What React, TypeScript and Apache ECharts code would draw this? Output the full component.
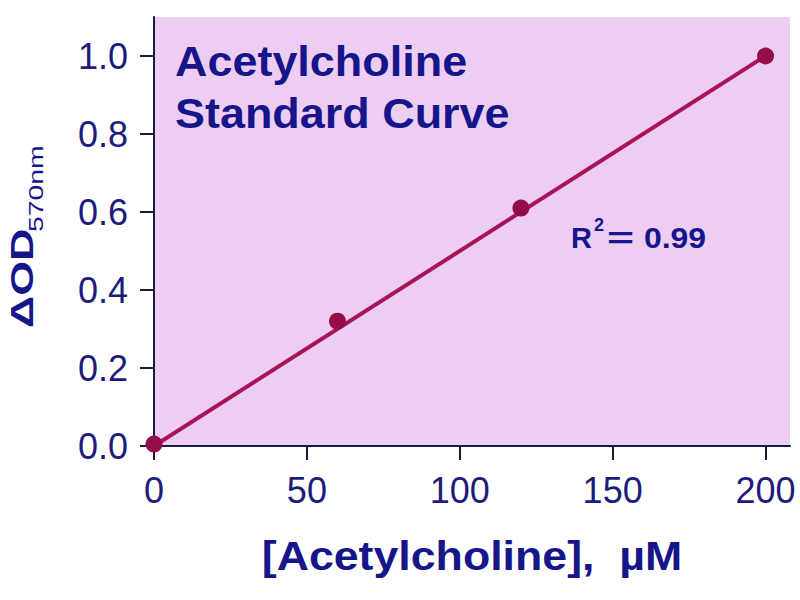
import React, { useEffect, useRef } from 'react';
import * as echarts from 'echarts';

// measured standards
const concentrations = [0, 60, 120, 200];
const deltaOD = [0.005, 0.32, 0.61, 1.0];

// linear fit drawn across the standards range
const fitX = [0, 200];
const fitY = [0.0, 1.0];

const xTicks = [0, 50, 100, 150, 200];
const yTicks = [0, 0.2, 0.4, 0.6, 0.8, 1.0];

const titleLines = ['Acetylcholine', 'Standard Curve'];
const r2Value = '0.99';

const navy = '#1c1c7a';
const titleBlue = '#16168a';
const font = 'Liberation Sans, Arial, sans-serif';

const App = () => {
  const chartRef = useRef<HTMLDivElement>(null);

  useEffect(() => {
    if (!chartRef.current) return;
    const chart = echarts.init(chartRef.current, null, { renderer: 'svg' });

    const option = {
      animation: false,
      backgroundColor: '#ffffff',
      grid: {
        left: 154,
        right: 10,
        top: 17,
        bottom: 154,
        show: true,
        backgroundColor: '#eecdf3',
        borderWidth: 0,
      },
      xAxis: {
        type: 'value',
        min: 0,
        max: 208,
        splitLine: { show: false },
        axisLine: { show: true, onZero: false, lineStyle: { color: '#1a1a44', width: 2 } },
        axisTick: {
          show: true,
          length: 14,
          customValues: xTicks,
          lineStyle: { color: '#1a1a44', width: 2 },
        },
        axisLabel: {
          customValues: xTicks,
          margin: 26,
          color: navy,
          fontSize: 36,
          fontFamily: font,
        },
      },
      yAxis: {
        type: 'value',
        min: 0,
        max: 1.1,
        splitLine: { show: false },
        axisLine: { show: true, onZero: false, lineStyle: { color: '#1a1a44', width: 2 } },
        axisTick: {
          show: true,
          length: 14,
          customValues: yTicks,
          lineStyle: { color: '#1a1a44', width: 2 },
        },
        axisLabel: {
          customValues: yTicks,
          margin: 26,
          color: navy,
          fontSize: 36,
          fontFamily: font,
          formatter: (v: number) => v.toFixed(1),
        },
      },
      graphic: [
        {
          type: 'text',
          x: 175,
          y: 36,
          scaleX: 1.07,
          z: 10,
          style: {
            text: titleLines.join('\n'),
            fill: titleBlue,
            font: `bold 42px ${font}`,
            lineHeight: 52,
          },
        },
        // R² annotation
        {
          type: 'text',
          x: 571,
          y: 238,
          z: 10,
          style: { text: 'R', fill: titleBlue, font: `bold 29px ${font}`, textVerticalAlign: 'middle' },
        },
        {
          type: 'text',
          x: 594,
          y: 225,
          z: 10,
          style: { text: '2', fill: titleBlue, font: `bold 18px ${font}`, textVerticalAlign: 'middle' },
        },
        {
          type: 'text',
          x: 607,
          y: 238,
          scaleX: 1.6,
          z: 10,
          style: { text: '=', fill: titleBlue, font: `bold 29px ${font}`, textVerticalAlign: 'middle' },
        },
        {
          type: 'text',
          x: 644,
          y: 238,
          scaleX: 1.1,
          z: 10,
          style: { text: r2Value, fill: titleBlue, font: `bold 29px ${font}`, textVerticalAlign: 'middle' },
        },
        // rotated y-axis name: ΔOD with subscript
        {
          type: 'group',
          x: 22,
          y: 328,
          rotation: Math.PI / 2,
          z: 10,
          children: [
            {
              type: 'text',
              x: 0,
              y: 0,
              scaleX: 1.4,
              style: { text: 'ΔOD', fill: titleBlue, font: `bold 32px ${font}`, textVerticalAlign: 'middle' },
            },
            {
              type: 'text',
              x: 96,
              y: 13,
              scaleX: 1.35,
              style: { text: '570nm', fill: titleBlue, font: `21px ${font}`, textVerticalAlign: 'middle' },
            },
          ],
        },
        {
          type: 'text',
          x: 472,
          y: 556,
          scaleX: 1.09,
          z: 10,
          style: {
            text: '[Acetylcholine],  µM',
            fill: titleBlue,
            font: `bold 41px ${font}`,
            textAlign: 'center',
            textVerticalAlign: 'middle',
          },
        },
      ],
      series: [
        {
          type: 'line',
          data: fitX.map((x, i) => [x, fitY[i]]),
          symbol: 'none',
          lineStyle: { color: '#a8145a', width: 4 },
          z: 2,
        },
        {
          type: 'scatter',
          data: concentrations.map((x, i) => [x, deltaOD[i]]),
          symbolSize: 17,
          itemStyle: { color: '#940c48', opacity: 1 },
          clip: false,
          z: 3,
        },
      ],
    };

    chart.setOption(option);
    return () => {
      chart.dispose();
    };
  }, []);

  return (
    <div
      ref={chartRef}
      style={{ position: 'absolute', left: 0, top: 0, width: '800px', height: '600px' }}
    />
  );
};

export default App;
